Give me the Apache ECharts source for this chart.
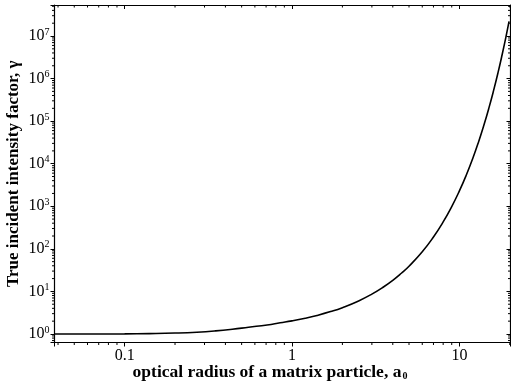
<!DOCTYPE html>
<html><head><meta charset="utf-8">
<script src="https://cdn.jsdelivr.net/npm/echarts@6/dist/echarts.min.js"></script>
<style>html,body{margin:0;padding:0;background:#fff}#c{width:511px;height:389px}</style>
</head><body><div id="c"></div>
<script>
// optical radius a0 (x) and true incident intensity factor gamma (y)
const aValues = [0.038, 0.07, 0.1, 0.14, 0.2, 0.27, 0.35, 0.44, 0.55, 0.71, 0.85, 1.0, 1.2, 1.41, 1.7, 2.0, 2.5, 3.0, 3.5, 4.0, 4.5, 5.0, 6.0, 7.0, 8.0, 9.0, 10, 11, 12, 13, 14, 15, 16, 17, 18, 19, 19.8];
const gammaValues = [1.0, 1.0, 1.005, 1.02, 1.05, 1.10, 1.18, 1.29, 1.44, 1.63, 1.83, 2.03, 2.34, 2.72, 3.35, 4.15, 5.97, 8.63, 12.5, 18.2, 26.7, 39.1, 85.4, 190, 428, 981, 2290, 5420, 13080, 32100, 80000, 202000, 520000, 1.36e6, 3.63e6, 9.8e6, 2.2e7];
const xTickLabels = ['0.1', '1', '10'];
const yTickExponents = [0, 1, 2, 3, 4, 5, 6, 7];
const xMinorTicks = [0.04, 0.05, 0.06, 0.07, 0.08, 0.09, 0.2, 0.3, 0.4, 0.5, 0.6, 0.7, 0.8, 0.9, 2, 3, 4, 5, 6, 7, 8, 9, 20];
const minorMantissas = [2, 3, 4, 5, 6, 7, 8, 9];
const yDecades = [-1, 0, 1, 2, 3, 4, 5, 6, 7];

const yMinorTicks = [];
yDecades.forEach(d => minorMantissas.forEach(m => yMinorTicks.push(m * Math.pow(10, d))));

const FONT = 'Liberation Serif, Times New Roman, serif';
const X_MIN = 0.0381, X_MAX = 20.2, Y_MIN = 0.63, Y_MAX = 5.35e7;

function isPow10(v) { const e = Math.log10(v); return Math.abs(e - Math.round(e)) < 1e-6; }

function minorTickSeries(values, dim) {
  return {
    type: 'custom', coordinateSystem: 'cartesian2d', silent: true, clip: false, z: 5,
    data: values.map(v => dim === 'x' ? [v, 1] : [1, v]),
    encode: { x: 0, y: 1 },
    renderItem: function (params, api) {
      const cs = params.coordSys;
      const p = api.coord([api.value(0), api.value(1)]);
      const L = 2.5;
      const st = { stroke: '#000', lineWidth: 1 };
      if (dim === 'x') {
        if (p[0] < cs.x + 0.5 || p[0] > cs.x + cs.width - 0.5) return;
        const b = cs.y + cs.height, t = cs.y;
        return { type: 'group', children: [
          { type: 'line', shape: { x1: p[0], y1: b, x2: p[0], y2: b + L }, style: st },
          { type: 'line', shape: { x1: p[0], y1: t, x2: p[0], y2: t + L }, style: st }
        ] };
      } else {
        if (p[1] < cs.y + 0.5 || p[1] > cs.y + cs.height - 0.5) return;
        const l = cs.x, r = cs.x + cs.width;
        return { type: 'group', children: [
          { type: 'line', shape: { x1: l - L, y1: p[1], x2: l, y2: p[1] }, style: st },
          { type: 'line', shape: { x1: r - L, y1: p[1], x2: r, y2: p[1] }, style: st }
        ] };
      }
    }
  };
}

const lineData = aValues.map((a, i) => [a, gammaValues[i]]);
const axisLineStyle = { color: '#000', width: 1.2 };

const chart = echarts.init(document.getElementById('c'), null, { renderer: 'canvas' });
chart.setOption({
  animation: false,
  backgroundColor: '#fff',
  grid: { left: 54.5, right: 0.5, top: 5, bottom: 46.5, containLabel: false, outerBoundsMode: 'none' },
  xAxis: [
    {
      type: 'log', logBase: 10, min: X_MIN, max: X_MAX, position: 'bottom',
      axisLine: { lineStyle: axisLineStyle },
      axisTick: { inside: false, length: 4, lineStyle: { color: '#000', width: 1 } },
      splitLine: { show: false },
      axisLabel: {
        margin: 5, color: '#000', fontFamily: FONT, fontSize: 16,
        formatter: v => {
          if (!isPow10(v)) return '';
          const s = String(Number(v.toPrecision(6)));
          return xTickLabels.indexOf(s) >= 0 ? s : '';
        }
      },
      name: '{t|optical radius of a matrix particle, a}{sub|0}',
      nameLocation: 'middle', nameGap: 20, nameMoveOverlap: false,
      nameTextStyle: {
        padding: [0, 25, 0, 0],
        rich: {
          t: { fontFamily: FONT, fontSize: 17.5, fontWeight: 'bold', color: '#000', lineHeight: 19 },
          sub: { fontFamily: FONT, fontSize: 10, fontWeight: 'bold', color: '#000', lineHeight: 10, verticalAlign: 'bottom', padding: [10, 0, 0, 1] }
        }
      }
    },
    {
      type: 'log', logBase: 10, min: X_MIN, max: X_MAX, position: 'top',
      axisLine: { lineStyle: axisLineStyle },
      axisTick: { inside: true, length: 4, lineStyle: { color: '#000', width: 1 } },
      axisLabel: { show: false }, splitLine: { show: false }
    }
  ],
  yAxis: [
    {
      type: 'log', logBase: 10, min: Y_MIN, max: Y_MAX, position: 'left',
      axisLine: { lineStyle: axisLineStyle },
      axisTick: { inside: false, length: 4, lineStyle: { color: '#000', width: 1 } },
      splitLine: { show: false },
      axisLabel: {
        margin: 5, color: '#000',
        formatter: v => {
          if (!isPow10(v)) return '';
          const e = Math.round(Math.log10(v));
          return yTickExponents.indexOf(e) >= 0 ? '{b|10}{s|' + e + '}' : '';
        },
        rich: {
          b: { fontFamily: FONT, fontSize: 16, color: '#000', lineHeight: 18 },
          s: { fontFamily: FONT, fontSize: 10, color: '#000', lineHeight: 10, verticalAlign: 'top' }
        }
      },
      name: 'True incident intensity factor, γ',
      nameLocation: 'middle', nameGap: 32, nameMoveOverlap: false,
      nameTextStyle: { fontFamily: FONT, fontSize: 17, fontWeight: 'bold', color: '#000' }
    },
    {
      type: 'log', logBase: 10, min: Y_MIN, max: Y_MAX, position: 'right',
      axisLine: { lineStyle: axisLineStyle },
      axisTick: { inside: true, length: 4, lineStyle: { color: '#000', width: 1 } },
      axisLabel: { show: false }, splitLine: { show: false }
    }
  ],
  series: [
    {
      type: 'line', data: lineData, smooth: 0.5, showSymbol: false, silent: true,
      lineStyle: { color: '#000', width: 1.6 }, z: 10
    },
    minorTickSeries(xMinorTicks, 'x'),
    minorTickSeries(yMinorTicks, 'y')
  ]
});
</script>
</body></html>
